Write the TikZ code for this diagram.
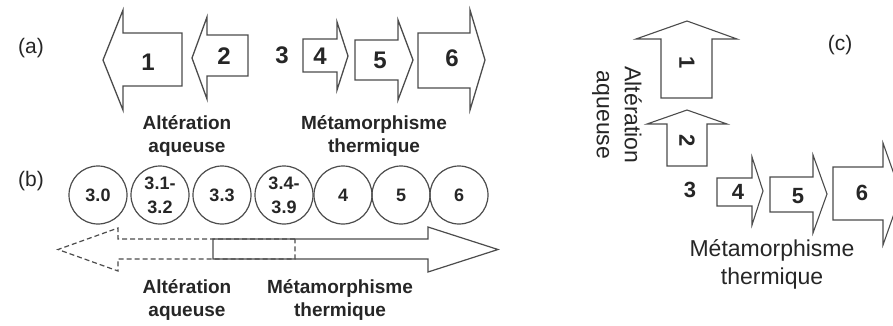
\documentclass[tikz,border=0pt]{standalone}
\usepackage{fontspec}
\setmainfont{Liberation Sans}
\begin{document}
\begin{tikzpicture}[x=1pt,y=-1pt,
  arr/.style={draw=black!70, line width=1.3pt, line join=miter},
  arrc/.style={draw=black!70, line width=1.1pt, line join=miter},
  dig/.style={font=\fontsize{24}{28}\selectfont\bfseries, text=black!85, inner sep=0pt},
  digc/.style={font=\fontsize{22}{26}\selectfont\bfseries, text=black!85, inner sep=0pt},
  panel/.style={font=\fontsize{21}{25}\selectfont, text=black!85, inner sep=0pt},
  lab/.style={font=\fontsize{19}{23}\selectfont\bfseries, text=black!85, align=center, inner sep=0pt},
  labc/.style={font=\fontsize{23}{28}\selectfont, text=black!85, align=center, inner sep=0pt},
  circ/.style={circle, draw=black!70, line width=1.2pt, minimum size=58pt, inner sep=0pt,
    font=\fontsize{18}{24}\selectfont\bfseries, text=black!85, align=center}]
\clip (0,0) rectangle (893,325);
\fill[white] (0,0) rectangle (893,325);

% ---------- panel (a)
\node[panel] (pa) at (31,48) {(a)};
\draw[arr] (103,60) -- (123,10) -- (123,33) -- (182,33) -- (182,86) -- (123,86) -- (123,110) -- cycle;
\draw[arr] (192,58) -- (207,17) -- (207,35) -- (248,35) -- (248,76) -- (207,76) -- (207,99) -- cycle;
\draw[arr] (303,39) -- (337,39) -- (337,22) -- (348,56) -- (337,90) -- (337,72) -- (303,72) -- cycle;
\draw[arr] (355,40) -- (398,40) -- (398,20) -- (413,60) -- (398,100) -- (398,80) -- (355,80) -- cycle;
\draw[arr] (418,33) -- (470,33) -- (470,10) -- (485,60) -- (470,110) -- (470,88) -- (418,88) -- cycle;
\node[dig] (a1) at (148,62) {1};
\node[dig] (a2) at (224,56) {2};
\node[dig] (a3) at (282,55) {3};
\node[dig] (a4) at (320,56) {4};
\node[dig] (a5) at (380,60) {5};
\node[dig] (a6) at (452,58) {6};
\node[lab] (la1) at (187,136) {Altération\\aqueuse};
\node[lab] (la2) at (374,136) {Métamorphisme\\thermique};

% ---------- panel (b)
\node[panel] (pb) at (31,181) {(b)};
\node[circ] (b1) at (98,195) {3.0};
\node[circ] (b2) at (160,195) {3.1-\\3.2};
\node[circ] (b3) at (222,195) {3.3};
\node[circ] (b4) at (284,195) {3.4-\\3.9};
\node[circ] (b5) at (343,195) {4};
\node[circ] (b6) at (401,195) {5};
\node[circ] (b7) at (459,195) {6};
\draw[arr, dashed, dash pattern=on 5pt off 3pt, line width=1.2pt] (295,239) -- (118,239) -- (118,228) -- (58,249.5) -- (118,271) -- (118,259) -- (295,259) -- cycle;
\draw[arr, line width=1.2pt] (213,239) -- (428,239) -- (428,227) -- (498,249.5) -- (428,272) -- (428,259) -- (213,259) -- cycle;
\node[lab] (lb1) at (187,300) {Altération\\aqueuse};
\node[lab] (lb2) at (340,300) {Métamorphisme\\thermique};

% ---------- panel (c)
\node[panel] (pc) at (840,45) {(c)};
\draw[arrc] (687,21) -- (737,39) -- (712,39) -- (712,98) -- (661,98) -- (661,39) -- (636,39) -- cycle;
\draw[arrc] (687,110) -- (727,124) -- (707,124) -- (707,166) -- (667,166) -- (667,124) -- (647,124) -- cycle;
\draw[arrc] (717,178) -- (752,178) -- (752,157) -- (763,191) -- (752,225) -- (752,206) -- (717,206) -- cycle;
\draw[arrc] (770,177) -- (813,177) -- (813,155) -- (827,194) -- (813,233) -- (813,212) -- (770,212) -- cycle;
\draw[arrc] (833,167) -- (883,167) -- (883,143) -- (901,194) -- (883,245) -- (883,220) -- (833,220) -- cycle;
\node[digc, rotate=-90] (c1) at (687,63) {1};
\node[digc, rotate=-90] (c2) at (687,141) {2};
\node[digc] (c3) at (690,190) {3};
\node[digc] (c4) at (738,192) {4};
\node[digc] (c5) at (798,196) {5};
\node[digc] (c6) at (862,193) {6};
\node[labc, rotate=-90] (lc1) at (617,115) {Altération\\aqueuse};
\node[labc] (lc2) at (772,264) {Métamorphisme\\thermique};
\end{tikzpicture}
\end{document}
